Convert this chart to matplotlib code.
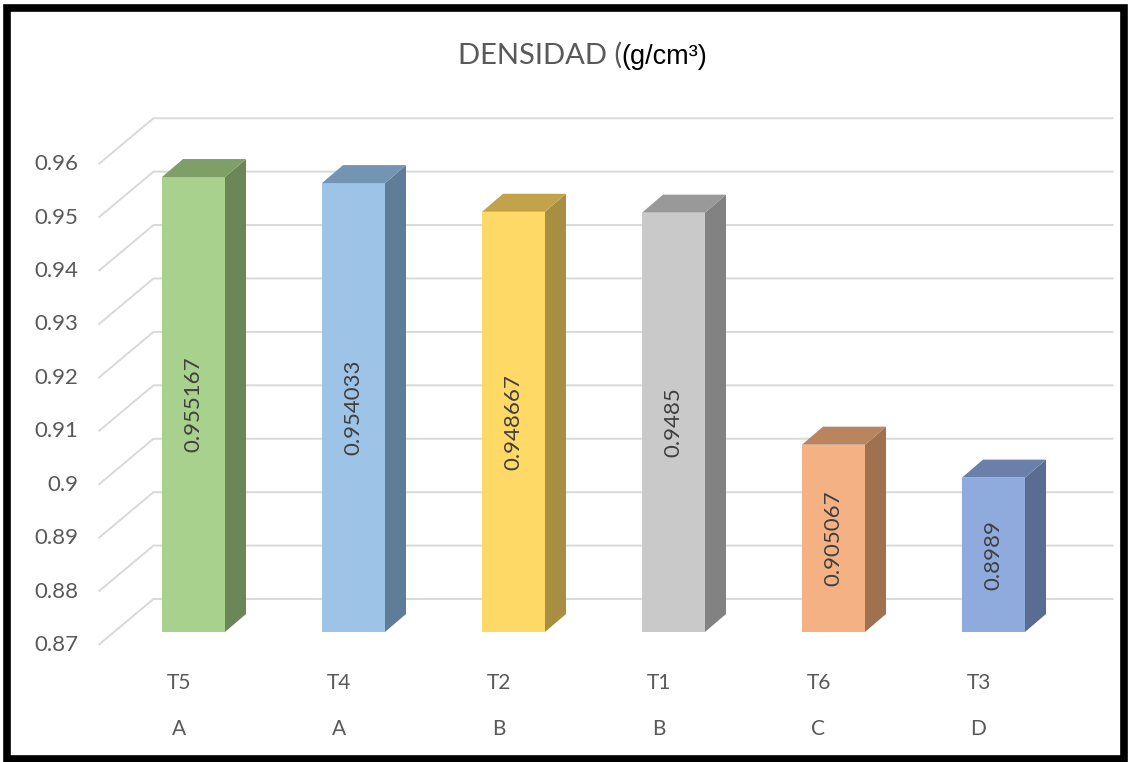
import matplotlib.pyplot as plt
from matplotlib.patches import Rectangle, Polygon

# data
trat = ['T5', 'T4', 'T2', 'T1', 'T6', 'T3']
grupo = ['A', 'A', 'B', 'B', 'C', 'D']
densidad = [0.955167, 0.954033, 0.948667, 0.9485, 0.905067, 0.8989]
etiquetas = ['0.955167', '0.954033', '0.948667', '0.9485', '0.905067', '0.8989']
yticks = [0.87, 0.88, 0.89, 0.90, 0.91, 0.92, 0.93, 0.94, 0.95, 0.96]
ytick_labels = ['0.87', '0.88', '0.89', '0.9', '0.91', '0.92', '0.93', '0.94', '0.95', '0.96']

col_front = ['#A9D18E', '#9DC3E6', '#FFD966', '#C9C9C9', '#F4B183', '#8FAADC']
col_side = ['#6B8757', '#5F7D99', '#A88E41', '#828282', '#A0714F', '#5A6C92']
col_top = ['#7E9F68', '#7494B4', '#C2A34B', '#999999', '#B98460', '#6A80AA']

plt.rcParams['font.family'] = ['Lato', 'DejaVu Sans']

W, H = 1130, 762
fig = plt.figure(figsize=(W / 100, H / 100), dpi=100)
ax = fig.add_axes([0, 0, 1, 1])
ax.axis('off')

# pixel <-> data scaling (bar front plane)
px_cat = 160.0
x0_px = 193.5
px_val = 5342.0
base = 0.87
y0_px = 632.0
ax.set_xlim(-x0_px / px_cat, (W - x0_px) / px_cat)
ax.set_ylim(base - (H - y0_px) / px_val, base + y0_px / px_val)


def off(dx_px, dy_px):
    return dx_px / px_cat, dy_px / px_val


fdx, fdy = off(-15, -13)   # front plane (labels)
bdx, bdy = off(40, 33)     # back wall
sdx, sdy = off(21, 18)     # bar depth
bw = 63 / px_cat

grid_c = '#D9D9D9'
for v in yticks:
    ax.plot([-0.5 + fdx, -0.5 + bdx, 5.5 + bdx], [v + fdy, v + bdy, v + bdy],
            color=grid_c, lw=1.4, zorder=1, solid_capstyle='butt')

for v, lab in zip(yticks, ytick_labels):
    ax.text(-0.5 + fdx - 20 / px_cat, v + fdy, lab, ha='right', va='center',
            fontsize=16, color='#595959')

for i, v in enumerate(densidad):
    x1, x2 = i - bw / 2, i + bw / 2
    ax.add_patch(Rectangle((x1, base), bw, v - base, facecolor=col_front[i],
                           edgecolor='none', zorder=3))
    ax.add_patch(Polygon([(x2, base), (x2 + sdx, base + sdy), (x2 + sdx, v + sdy), (x2, v)],
                         closed=True, facecolor=col_side[i], edgecolor='none', zorder=3))
    ax.add_patch(Polygon([(x1, v), (x2, v), (x2 + sdx, v + sdy), (x1 + sdx, v + sdy)],
                         closed=True, facecolor=col_top[i], edgecolor='none', zorder=3))
    ax.text(i, (v + base) / 2, etiquetas[i], rotation=90, ha='center', va='center',
            fontsize=16, color='#404040', zorder=4)
    ax.text(i + fdx, base + fdy - 38 / px_val, trat[i], ha='center', va='center',
            fontsize=15, color='#595959')
    ax.text(i + fdx, base + fdy - 84 / px_val, grupo[i], ha='center', va='center',
            fontsize=15, color='#595959')

# title
fig.text(458 / W, 1 - 64 / H, 'DENSIDAD (', ha='left', va='baseline',
         fontsize=21, color='#595959')
fig.text(621 / W, 1 - 64 / H, '(g/cm³)', ha='left', va='baseline',
         fontsize=19.5, color='black', family='Liberation Sans')

# black frame
fig.patches.append(Rectangle((6.5 / W, 3.5 / H), 1 - 13 / W, 1 - 11 / H,
                             transform=fig.transFigure, fill=False,
                             edgecolor='black', linewidth=5.5))

fig.savefig('out.png', dpi=100)
